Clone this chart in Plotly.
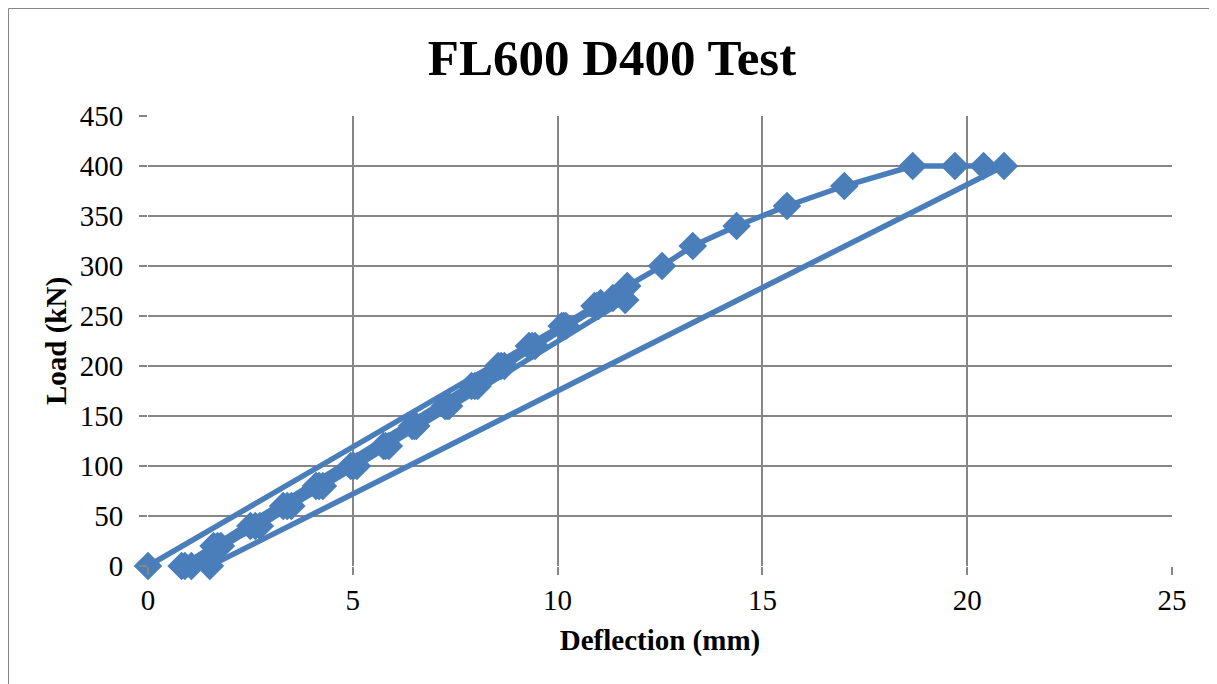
import plotly.graph_objects as go

# Load cycles (deflection mm, load kN)
cycle1_x = [0.0, 11.05]
cycle1_y = [0, 263]

unload1_x = [0.82]
unload1_y = [0]

cycle2_x = [1.6, 2.5, 3.3, 4.1, 4.95, 5.75, 6.45, 7.25, 7.9, 8.55, 9.3, 10.1, 10.9, 11.35]
cycle2_y = [20, 40, 60, 80, 100, 120, 140, 160, 180, 200, 220, 240, 260, 268]

unload2_x = [0.9]
unload2_y = [0]

cycle3_x = [1.7, 2.62, 3.4, 4.18, 5.02, 5.8, 6.5, 7.3, 7.98, 8.62, 9.38, 10.15, 10.95, 11.65]
cycle3_y = [20, 40, 60, 80, 100, 120, 140, 160, 180, 200, 220, 240, 260, 266]

unload3_x = [1.06]
unload3_y = [0]

final_x = [1.78, 2.73, 3.5, 4.27, 5.1, 5.88, 6.55, 7.35, 8.05, 8.7, 9.45, 10.2, 11.0, 11.7,
           12.55, 13.3, 14.37, 15.6, 17.0, 18.67, 19.7, 20.4, 20.9]
final_y = [20, 40, 60, 80, 100, 120, 140, 160, 180, 200, 220, 240, 260, 280,
           300, 320, 340, 360, 380, 400, 400, 400, 400]

unload4_x = [1.51]
unload4_y = [0]

x_ticks = [0, 5, 10, 15, 20, 25]
y_ticks = [0, 50, 100, 150, 200, 250, 300, 350, 400, 450]

xs = cycle1_x + unload1_x + cycle2_x + unload2_x + cycle3_x + unload3_x + final_x + unload4_x
ys = cycle1_y + unload1_y + cycle2_y + unload2_y + cycle3_y + unload3_y + final_y + unload4_y

blue = "#4A7EBB"
grid = "#868686"

W, H = 1209, 676
L, T, PW, PH = 140, 108, 1024, 450

fig = go.Figure()
fig.add_trace(go.Scatter(
    x=xs, y=ys, mode="lines+markers",
    line=dict(color=blue, width=5.5),
    marker=dict(symbol="diamond", size=22, color=blue),
    cliponaxis=False,
    showlegend=False,
))

font_family = "Liberation Serif"

fig.update_layout(
    width=W, height=H,
    margin=dict(l=L, r=W - L - PW, t=T, b=H - T - PH),
    paper_bgcolor="white", plot_bgcolor="white",
    title=dict(text="<b>FL600 D400 Test</b>", x=(612 - 8) / W, xanchor="center",
               y=1 - 49 / H, yanchor="middle",
               font=dict(family=font_family, size=51, color="black")),
    font=dict(family=font_family, color="black"),
    xaxis=dict(
        range=[0, 25], tickvals=x_ticks, ticktext=[str(v) for v in x_ticks],
        showgrid=True, gridcolor=grid, gridwidth=2,
        zeroline=False, showline=False,
        ticks="outside", ticklen=8, tickcolor=grid, tickwidth=2,
        tickfont=dict(family=font_family, size=29, color="black"),
        title=dict(text="<b>Deflection (mm)</b>", standoff=14,
                   font=dict(family=font_family, size=29, color="black")),
    ),
    yaxis=dict(
        range=[0, 450], tickvals=y_ticks, ticktext=[str(v) for v in y_ticks],
        showgrid=True, gridcolor=grid, gridwidth=2,
        zeroline=False, showline=False,
        ticks="outside", ticklen=8, tickcolor=grid, tickwidth=2,
        ticklabelstandoff=10,
        tickfont=dict(family=font_family, size=29, color="black"),
        title=dict(text="<b>Load (kN)</b>", standoff=4,
                   font=dict(family=font_family, size=29, color="black")),
    ),
    shapes=[dict(type="rect", xref="paper", yref="paper",
                 x0=(0.5 - L) / PW, x1=(1205 - L) / PW,
                 y0=(T + PH - 720) / PH, y1=(T + PH - 0.5) / PH,
                 line=dict(color=grid, width=1), layer="below")],
)
fig.write_html("out.html")
